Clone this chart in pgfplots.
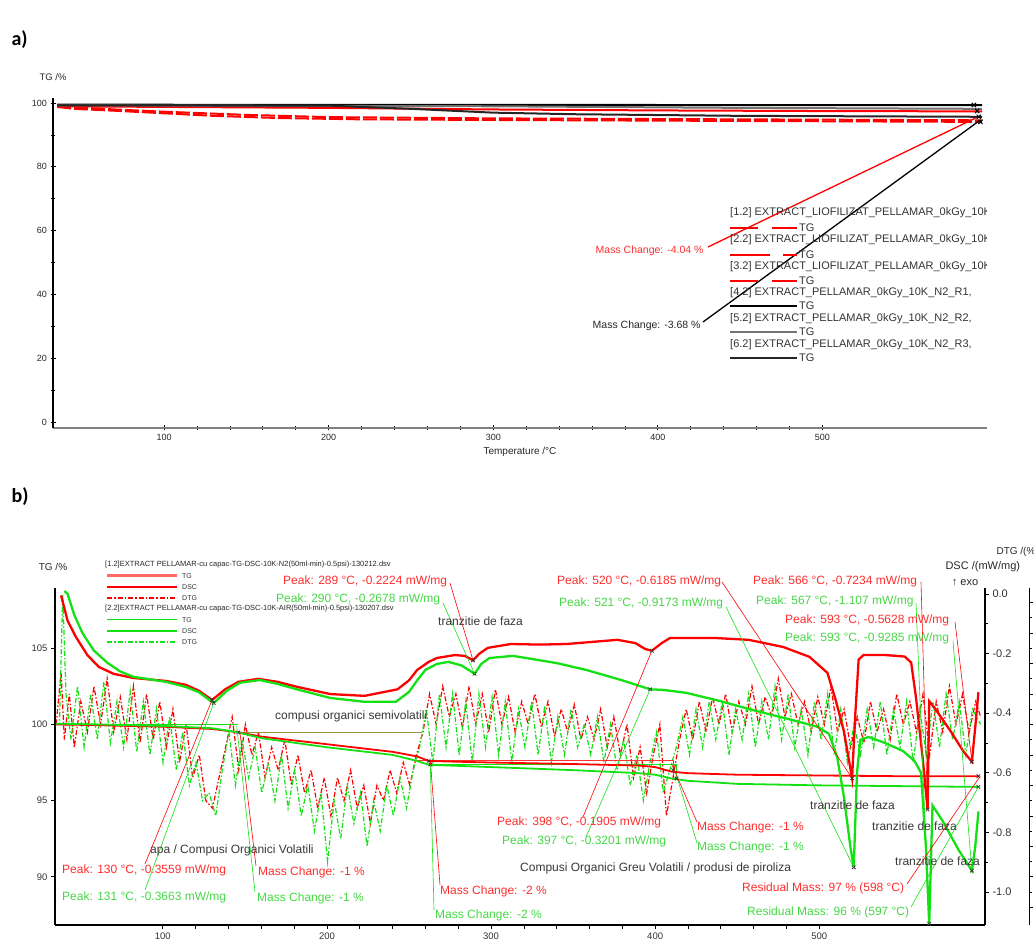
\documentclass[border=0pt]{standalone}
\usepackage{pgfplots}
\pgfplotsset{compat=1.18}
\usepackage{pgfplotstable}
\usepackage{fontspec}
\setmainfont{Liberation Sans}
\newfontfamily\carlito{Carlito}
\definecolor{cred}{RGB}{255,0,0}
\definecolor{cgreen}{RGB}{20,225,20}
\definecolor{tred}{RGB}{255,45,45}
\definecolor{tgreen}{RGB}{70,215,70}
\definecolor{tgray}{RGB}{55,55,55}
\definecolor{olivel}{RGB}{150,150,70}
\newcommand{\myfs}[1]{\fontsize{#1}{#1}\selectfont}

% ---------- panel b: TG (%) ----------
\pgfplotstableread{
T v
35 100.0
60 99.95
100 99.85
130 99.7
145 99.5
160 99.2
200 98.7
240 98.2
255 97.9
262 97.6
280 97.55
300 97.5
350 97.4
390 97.3
400 97.2
410 96.9
420 96.8
450 96.7
500 96.65
550 96.6
597 96.6
}\tgred
\pgfplotstableread{
T v
35 100.05
60 100.0
100 99.9
130 99.75
145 99.5
160 99.1
200 98.5
240 98.0
255 97.6
262 97.35
300 97.2
350 97.0
390 96.8
400 96.7
410 96.45
420 96.3
450 96.1
500 96.0
550 95.95
597 95.9
}\tggreen
% ---------- panel b: DSC (mW/mg) ----------
\pgfplotstableread{
T d
38 -0.005
42 -0.09
47 -0.144
54 -0.205
61 -0.245
70 -0.268
82 -0.282
102 -0.292
114 -0.305
122 -0.325
130 -0.3559
138 -0.32
146 -0.295
158 -0.285
170 -0.295
182 -0.312
202 -0.336
223 -0.342
243 -0.32
250 -0.29
255 -0.255
262 -0.228
267 -0.215
278 -0.205
284 -0.208
289 -0.2224
293 -0.20
298 -0.181
312 -0.168
330 -0.170
346 -0.168
377 -0.154
388 -0.165
394 -0.185
398 -0.1905
404 -0.165
409 -0.148
437 -0.148
457 -0.154
478 -0.178
494 -0.211
505 -0.265
510 -0.356
515 -0.46
520 -0.6185
522 -0.40
524 -0.22
527 -0.205
540 -0.205
552 -0.21
556 -0.23
559 -0.35
563 -0.55
566 -0.7234
567 -0.36
570 -0.38
580 -0.46
588 -0.53
593 -0.5628
595 -0.45
597 -0.33
}\dscred
\pgfplotstableread{
T d
40 0.01
42 0.0
46 -0.07
51 -0.131
58 -0.19
66 -0.23
74 -0.26
82 -0.278
102 -0.295
114 -0.312
122 -0.33
131 -0.3663
139 -0.325
147 -0.298
159 -0.289
170 -0.302
183 -0.322
202 -0.349
223 -0.362
242 -0.362
250 -0.329
255 -0.29
260 -0.255
267 -0.235
274 -0.228
282 -0.24
290 -0.2678
294 -0.235
299 -0.215
313 -0.208
317 -0.211
340 -0.232
358 -0.255
380 -0.29
397 -0.3201
405 -0.322
419 -0.332
440 -0.36
459 -0.389
480 -0.418
499 -0.446
506 -0.47
511 -0.55
515 -0.68
519 -0.85
521 -0.9173
523 -0.60
525 -0.49
530 -0.48
540 -0.50
551 -0.527
558 -0.56
562 -0.60
565 -0.85
567 -1.107
569 -0.71
575 -0.76
585 -0.86
593 -0.9285
595 -0.85
597 -0.73
}\dscgreen
% ---------- panel b: DTG ----------
\pgfplotstableread{
T d
35 0.00
38 0.34
40 -0.10
43 0.20
46 -0.15
50 0.15
54 -0.05
58 0.25
62 0.00
66 0.30
70 -0.05
74 0.18
78 -0.10
82 0.25
86 -0.12
90 0.20
94 -0.10
98 0.15
102 -0.15
106 0.10
110 -0.25
114 0.00
118 -0.35
122 -0.20
126 -0.50
130 -0.55
134 -0.35
138 -0.15
142 0.05
146 -0.30
150 0.00
154 -0.20
158 -0.05
162 -0.35
166 -0.15
170 -0.30
174 -0.10
178 -0.40
182 -0.20
186 -0.45
190 -0.30
194 -0.55
198 -0.35
202 -0.60
206 -0.35
210 -0.50
214 -0.30
218 -0.55
222 -0.40
226 -0.65
230 -0.40
234 -0.50
238 -0.30
242 -0.45
246 -0.25
250 -0.40
254 -0.20
258 -0.05
262 0.20
266 0.00
270 0.25
274 0.05
278 0.20
282 -0.02
286 0.25
290 0.00
294 0.20
298 -0.05
302 0.23
306 0.00
310 0.18
314 -0.05
318 0.15
322 0.00
326 0.20
330 -0.02
334 0.15
338 -0.08
342 0.10
346 -0.05
350 0.13
354 -0.10
358 0.05
362 -0.10
366 0.10
370 -0.15
374 0.05
378 -0.20
382 0.00
386 -0.35
390 -0.15
394 -0.45
398 -0.20
402 0.00
406 -0.60
410 -0.35
414 -0.10
418 0.10
422 -0.10
426 0.15
430 -0.05
434 0.18
438 0.00
442 0.20
446 -0.05
450 0.15
454 0.00
458 0.25
462 0.00
466 0.18
470 0.05
474 0.30
478 0.05
482 0.20
486 0.00
490 0.15
494 -0.05
498 0.18
502 0.00
506 0.25
510 -0.05
514 0.10
518 -0.15
522 0.05
526 -0.12
530 0.15
534 -0.05
538 0.10
542 -0.10
546 0.20
550 0.00
554 0.15
558 -0.05
562 0.20
566 -0.20
570 0.15
574 -0.05
578 0.25
582 0.00
586 0.20
590 -0.05
594 0.15
597 0.05
}\dtgred
\pgfplotstableread{
T d
35 0.00
37 0.00
39 0.85
41 0.20
44 -0.10
48 0.25
52 -0.15
56 0.20
60 -0.10
64 0.28
68 -0.12
72 0.15
76 -0.15
80 0.22
84 -0.18
88 0.15
92 -0.20
96 0.10
100 -0.25
104 0.05
108 -0.30
112 -0.05
116 -0.40
120 -0.25
124 -0.50
128 -0.45
132 -0.60
136 -0.30
140 -0.05
144 -0.40
148 -0.10
152 -0.35
156 -0.15
160 -0.45
164 -0.25
168 -0.50
172 -0.20
176 -0.55
180 -0.30
184 -0.60
188 -0.40
192 -0.70
196 -0.45
200 -0.90
204 -0.50
208 -0.75
212 -0.40
216 -0.65
220 -0.45
224 -0.80
228 -0.50
232 -0.70
236 -0.40
240 -0.60
244 -0.35
248 -0.55
252 -0.30
256 -0.15
260 0.10
264 -0.25
268 0.20
272 -0.15
276 0.20
280 -0.20
284 0.15
288 -0.25
292 0.20
296 -0.15
300 0.18
304 -0.20
308 0.15
312 -0.25
316 0.10
320 -0.15
324 0.15
328 -0.20
332 0.12
336 -0.25
340 0.05
344 -0.20
348 0.10
352 -0.15
356 0.00
360 -0.20
364 0.05
368 -0.25
372 0.00
376 -0.30
380 -0.10
384 -0.40
388 -0.20
392 -0.50
396 -0.25
400 -0.05
404 -0.45
408 -0.30
412 -0.15
416 0.05
420 -0.20
424 0.10
428 -0.15
432 0.15
436 -0.10
440 0.15
444 -0.20
448 0.10
452 -0.10
456 0.20
460 -0.15
464 0.15
468 -0.10
472 0.25
476 -0.10
480 0.20
484 -0.15
488 0.10
492 -0.20
496 0.15
500 -0.10
504 0.20
508 -0.20
512 0.10
516 -0.25
520 0.00
524 -0.20
528 0.10
532 -0.15
536 0.15
540 -0.20
544 0.10
548 -0.15
552 0.15
556 -0.25
560 0.10
564 -0.20
568 0.15
572 -0.15
576 0.20
580 -0.10
584 0.15
588 -0.20
592 0.10
597 0.00
}\dtggreen

\begin{document}
\begin{tikzpicture}
\path[use as bounding box] (0pt,0pt) rectangle (1034pt,941pt);

% ================= PANEL A =================
\begin{axis}[
  at={(53pt,513pt)}, anchor=south west, scale only axis,
  width=934pt, height=330pt,
  xmin=32.5, xmax=600, ymin=-1.9, ymax=101.6,
  axis x line*=bottom, axis y line*=left,
  axis line style={-},
  x axis line style={line width=2.5pt, black!50},
  y axis line style={line width=1.3pt, black},
  xtick={100,200,300,400,500}, minor x tick num=4,
  ytick={0,20,40,60,80,100}, minor y tick num=1,
  tick align=center, major tick length=5pt, minor tick length=4pt,
  every tick/.style={black, line width=0.8pt},
  tick label style={font=\myfs{9}, text=black!85},
  /pgf/number format/assume math mode=true,
  clip=false,
]
\addplot[cred, line width=2pt, dash pattern=on 14pt off 3pt] coordinates {(35,98.8)(45,98.2)(70,97.6)(100,96.8)(130,96.0)(170,95.3)(220,94.9)(300,94.7)(400,94.5)(500,94.3)(597,94.1)};
\addplot[cred, line width=2pt] coordinates {(35,99.0)(100,98.8)(200,98.5)(300,98.0)(400,97.7)(500,97.5)(597,97.4)};
\addplot[cred, line width=2pt, dash pattern=on 14pt off 3pt] coordinates {(35,99.0)(70,98.0)(100,97.3)(150,96.3)(200,95.6)(300,95.2)(400,95.0)(500,94.8)(597,94.6)};
\addplot[black, line width=2pt] coordinates {(35,99.5)(200,99.45)(400,99.4)(597,99.4)};
\addplot[black!55, line width=2pt] coordinates {(35,99.3)(300,99.0)(450,98.5)(597,98.2)};
\addplot[black!85, line width=2pt] coordinates {(35,99.3)(200,99.2)(250,98.2)(300,97.0)(350,96.5)(450,96.0)(597,95.7)};
\addplot[only marks, mark=x, mark size=3pt, black, line width=1pt] coordinates {(592,99.4)(594,97.5)(595,95.7)(596,94.1)};
\coordinate (MA1) at (axis cs:593,95.3);
\coordinate (MA2) at (axis cs:596,94.7);
\end{axis}

% ================= PANEL B =================
% DTG axis (far right; its labels lie beyond the cropped edge)
\begin{axis}[
  at={(55pt,16pt)}, anchor=south west, scale only axis,
  width=974pt, height=337pt,
  xmin=34.3, xmax=626.4, ymin=-1.316, ymax=0.895,
  axis x line=none, axis y line*=right,
  axis line style={-, black, line width=1pt},
  ytick={-1.2,-1.0,-0.8,-0.6,-0.4,-0.2,0,0.2,0.4,0.6,0.8}, minor y tick num=1,
  yticklabels={},
  tick align=outside, major tick length=4pt, minor tick length=3pt,
  every tick/.style={black, line width=0.7pt},
]
\addplot[cred, line width=1.2pt, dash pattern=on 5pt off 2pt on 1.5pt off 2pt] table[x=T,y=d] {\dtgred};
\addplot[cgreen, line width=1.2pt, dash pattern=on 5pt off 2pt on 1.5pt off 2pt] table[x=T,y=d] {\dtggreen};
\end{axis}

% TG axis (left)
\begin{axis}[
  at={(55pt,16pt)}, anchor=south west, scale only axis,
  width=930pt, height=337pt,
  xmin=34.3, xmax=601, ymin=86.84, ymax=108.95,
  axis x line*=bottom, axis y line*=left,
  axis line style={-, black, line width=1.2pt},
  xtick={100,200,300,400,500}, minor x tick num=4,
  ytick={90,95,100,105},
  tick align=outside, major tick length=4pt, minor tick length=4pt,
  every tick/.style={black, line width=0.7pt},
  tick label style={font=\myfs{9.5}, text=black!80},
  /pgf/number format/assume math mode=true,
]
\addplot[cgreen, line width=0.8pt] coordinates {(36,100.0)(146,100.0)};
\addplot[olivel, line width=1.3pt] coordinates {(146,99.45)(258,99.45)};
\addplot[cred!80, line width=0.8pt] coordinates {(253,97.62)(411,97.62)(411,96.7)};
\addplot[cgreen, line width=0.8pt] coordinates {(262,97.35)(413,97.35)(413,96.4)};
\addplot[cred, line width=1.8pt] table[x=T,y=v] {\tgred};
\addplot[cgreen, line width=1.8pt] table[x=T,y=v] {\tggreen};
\addplot[only marks, mark=x, mark size=2.5pt, black!80, line width=0.8pt] coordinates {(146,99.47)(262,97.6)(263,97.37)(411,97.0)(413,96.45)(597,96.6)(597,95.9)};
\coordinate (M1r) at (axis cs:147,99.47);
\coordinate (M1g) at (axis cs:145,99.9);
\coordinate (M2r) at (axis cs:263,97.6);
\coordinate (M2g) at (axis cs:263,97.37);
\coordinate (M3r) at (axis cs:410,97.4);
\coordinate (M3g) at (axis cs:414,96.3);
\coordinate (Rr) at (axis cs:598,96.6);
\coordinate (Rg) at (axis cs:597,95.9);
\end{axis}

% DSC axis (right)
\begin{axis}[
  at={(55pt,16pt)}, anchor=south west, scale only axis,
  width=930pt, height=337pt,
  xmin=34.3, xmax=601, ymin=-1.111, ymax=0.020,
  axis x line=none, axis y line*=right,
  axis line style={-, black, line width=1.2pt},
  ytick={-1,-0.8,-0.6,-0.4,-0.2,0}, minor y tick num=1,
  tick align=outside, major tick length=4pt, minor tick length=3pt,
  every tick/.style={black, line width=0.7pt},
  yticklabel style={font=\myfs{11}, text=black!80, /pgf/number format/.cd, fixed, fixed zerofill, precision=1},
  /pgf/number format/assume math mode=true,
  clip=false,
]
\addplot[cred, line width=2.3pt] table[x=T,y=d] {\dscred};
\addplot[cgreen, line width=2.3pt] table[x=T,y=d] {\dscgreen};
\addplot[only marks, mark=x, mark size=2.5pt, black!80, line width=0.8pt] coordinates {(130,-0.3559)(131,-0.3663)(289,-0.2224)(290,-0.2678)(398,-0.1905)(397,-0.3201)(520,-0.6185)(521,-0.9173)(566,-0.7234)(567,-1.107)(593,-0.5628)(593,-0.9285)};
\coordinate (P130) at (axis cs:130,-0.3559);
\coordinate (P131) at (axis cs:131,-0.3663);
\coordinate (P289) at (axis cs:289,-0.2224);
\coordinate (P290) at (axis cs:290,-0.2678);
\coordinate (P398) at (axis cs:398,-0.1905);
\coordinate (P397) at (axis cs:397,-0.3201);
\coordinate (P520) at (axis cs:520,-0.6185);
\coordinate (P521) at (axis cs:521,-0.9173);
\coordinate (P566) at (axis cs:566,-0.7234);
\coordinate (P567) at (axis cs:567,-1.107);
\coordinate (P593r) at (axis cs:593,-0.5628);
\coordinate (P593g) at (axis cs:593,-0.9285);
\end{axis}

\begin{scope}[x=1pt,y=1pt]
% ----- panel a decorations -----
\node[font=\carlito\bfseries\myfs{20}, anchor=west] at (8,901) {a)};
\node[font=\myfs{9.5}, text=black!85] at (53,864) {TG /\%};
\draw[cred, line width=1.3pt] (708,694) -- (MA1);
\draw[black, line width=1.3pt] (703,619) -- (MA2);
\node[anchor=east, text=tred, font=\myfs{10.5}] at (707,690) {Mass Change: -4.04 \%};
\node[anchor=east, text=black!85, font=\myfs{10.5}] at (704,615) {Mass Change: -3.68 \%};
\node[font=\myfs{10}, text=black!85] at (520,489) {Temperature /°C};
\begin{scope}
\clip (725,570) rectangle (986,740);
\node[anchor=west, font=\myfs{11}, text=black!80, inner sep=0pt] at (730,728) {[1.2] EXTRACT\_LIOFILIZAT\_PELLAMAR\_0kGy\_10K};
\node[anchor=west, font=\myfs{11}, text=black!80, inner sep=0pt] at (730,701) {[2.2] EXTRACT\_LIOFILIZAT\_PELLAMAR\_0kGy\_10K};
\node[anchor=west, font=\myfs{11}, text=black!80, inner sep=0pt] at (730,674) {[3.2] EXTRACT\_LIOFILIZAT\_PELLAMAR\_0kGy\_10K};
\node[anchor=west, font=\myfs{11}, text=black!80, inner sep=0pt] at (730,648) {[4.2] EXTRACT\_PELLAMAR\_0kGy\_10K\_N2\_R1,};
\node[anchor=west, font=\myfs{11}, text=black!80, inner sep=0pt] at (730,622) {[5.2] EXTRACT\_PELLAMAR\_0kGy\_10K\_N2\_R2,};
\node[anchor=west, font=\myfs{11}, text=black!80, inner sep=0pt] at (730,596) {[6.2] EXTRACT\_PELLAMAR\_0kGy\_10K\_N2\_R3,};
\end{scope}
\draw[cred, line width=2pt, dash pattern=on 28pt off 14pt] (730,713) -- (797,713);
\draw[cred, line width=2pt, dash pattern=on 40pt off 13pt] (730,686) -- (797,686);
\draw[cred, line width=2pt, dash pattern=on 28pt off 14pt] (730,660) -- (797,660);
\draw[black, line width=2pt] (730,635) -- (797,635);
\draw[black!55, line width=2.5pt] (730,609) -- (797,609);
\draw[black!85, line width=2pt] (730,583) -- (797,583);
\foreach \yy in {713,686,660,635,609,583}{\node[anchor=west, font=\myfs{11}, text=black!80, inner sep=0pt] at (799,\yy) {TG};}

% ----- panel b decorations -----
\node[font=\carlito\bfseries\myfs{20}, anchor=west] at (8,444) {b)};
\node[font=\myfs{10}, text=black!85] at (53,374) {TG /\%};
\node[anchor=west, font=\myfs{10}, text=black!85] at (993,389) {DTG /(\%/min)};
\node[anchor=west, font=\myfs{11}, text=black!85] at (942,374) {DSC /(mW/mg)};
\node[font=\myfs{11}, text=black!85] at (965,358) {↑ exo};

\node[anchor=west, font=\myfs{7.5}, text=black!85, inner sep=0pt] at (105,376) {[1.2]EXTRACT PELLAMAR-cu capac-TG-DSC-10K-N2(50ml-min)-0.5psi)-130212.dsv};
\node[anchor=west, font=\myfs{7.5}, text=black!85, inner sep=0pt] at (105,332) {[2.2]EXTRACT PELLAMAR-cu capac-TG-DSC-10K-AIR(50ml-min)-0.5psi)-130207.dsv};
\draw[cred!60, line width=3pt] (107,365) -- (177,365);
\draw[cred, line width=1.8pt] (107,354) -- (177,354);
\draw[cred, line width=1.2pt, dash pattern=on 5pt off 2pt on 1.5pt off 2pt] (107,343) -- (177,343);
\draw[cgreen, line width=1pt] (107,321) -- (177,321);
\draw[cgreen, line width=1.8pt] (107,310) -- (177,310);
\draw[cgreen, line width=1.2pt, dash pattern=on 5pt off 2pt on 1.5pt off 2pt] (107,299) -- (177,299);
\node[anchor=west, font=\myfs{7}, text=black!80, inner sep=0pt] at (182,365) {TG};
\node[anchor=west, font=\myfs{7}, text=black!80, inner sep=0pt] at (182,354) {DSC};
\node[anchor=west, font=\myfs{7}, text=black!80, inner sep=0pt] at (182,343) {DTG};
\node[anchor=west, font=\myfs{7}, text=black!80, inner sep=0pt] at (182,321) {TG};
\node[anchor=west, font=\myfs{7}, text=black!80, inner sep=0pt] at (182,310) {DSC};
\node[anchor=west, font=\myfs{7}, text=black!80, inner sep=0pt] at (182,299) {DTG};

\begin{scope}[line width=0.6pt]
\draw[cred] (450,358) -- (P289);
\draw[cgreen] (443,338) -- (P290);
\draw[cred] (722,359) -- (P520);
\draw[cgreen] (726,334) -- (P521);
\draw[cred] (921,359) -- (P566);
\draw[cgreen] (916,338) -- (P567);
\draw[cred] (955,319) -- (P593r);
\draw[cgreen] (953,300) -- (P593g);
\draw[cred] (145,77) -- (P130);
\draw[cgreen] (145,51) -- (P131);
\draw[cred] (256,75) -- (M1r);
\draw[cgreen] (255,49) -- (M1g);
\draw[cred] (440,56) -- (M2r);
\draw[cgreen] (434,31) -- (M2g);
\draw[cred] (583,124) -- (P398);
\draw[cgreen] (586,104) -- (P397);
\draw[cred] (697,119) -- (M3r);
\draw[cgreen] (697,98) -- (M3g);
\draw[cred] (907,57) -- (Rr);
\draw[cgreen] (911,34) -- (Rg);
\end{scope}

\begin{scope}[every node/.style={anchor=west, font=\myfs{12}, inner sep=0pt}]
\node[text=tred] at (283,360) {Peak: 289 °C, -0.2224 mW/mg};
\node[text=tgreen] at (276,342) {Peak: 290 °C, -0.2678 mW/mg};
\node[text=tgray] at (438,320) {tranzitie de faza};
\node[text=tred] at (557,360) {Peak: 520 °C, -0.6185 mW/mg};
\node[text=tgreen] at (559,338) {Peak: 521 °C, -0.9173 mW/mg};
\node[text=tred] at (753,360) {Peak: 566 °C, -0.7234 mW/mg};
\node[text=tgreen] at (756,340) {Peak: 567 °C, -1.107 mW/mg};
\node[text=tred] at (785,321) {Peak: 593 °C, -0.5628 mW/mg};
\node[text=tgreen] at (785,303) {Peak: 593 °C, -0.9285 mW/mg};
\node[text=tgray] at (275,225) {compusi organici semivolatili};
\node[text=tred] at (62,71) {Peak: 130 °C, -0.3559 mW/mg};
\node[text=tgreen] at (62,44) {Peak: 131 °C, -0.3663 mW/mg};
\node[text=tgray] at (150,91) {apa / Compusi Organici Volatili};
\node[text=tred] at (258,69) {Mass Change: -1 \%};
\node[text=tgreen] at (257,43) {Mass Change: -1 \%};
\node[text=tred] at (440,50) {Mass Change: -2 \%};
\node[text=tgreen] at (435,26) {Mass Change: -2 \%};
\node[text=tred] at (497,119) {Peak: 398 °C, -0.1905 mW/mg};
\node[text=tgreen] at (502,100) {Peak: 397 °C, -0.3201 mW/mg};
\node[text=tred] at (697,114) {Mass Change: -1 \%};
\node[text=tgreen] at (697,94) {Mass Change: -1 \%};
\node[text=tgray] at (520,73) {Compusi Organici Greu Volatili / produsi de piroliza};
\node[text=tgray] at (810,136) {tranzitie de faza};
\node[text=tgray] at (872,115) {tranzitie de faza};
\node[text=tgray] at (895,80) {tranzitie de faza};
\node[text=tred] at (742,53) {Residual Mass: 97 \% (598 °C)};
\node[text=tgreen] at (747,29) {Residual Mass: 96 \% (597 °C)};
\end{scope}
\end{scope}
\end{tikzpicture}
\end{document}
